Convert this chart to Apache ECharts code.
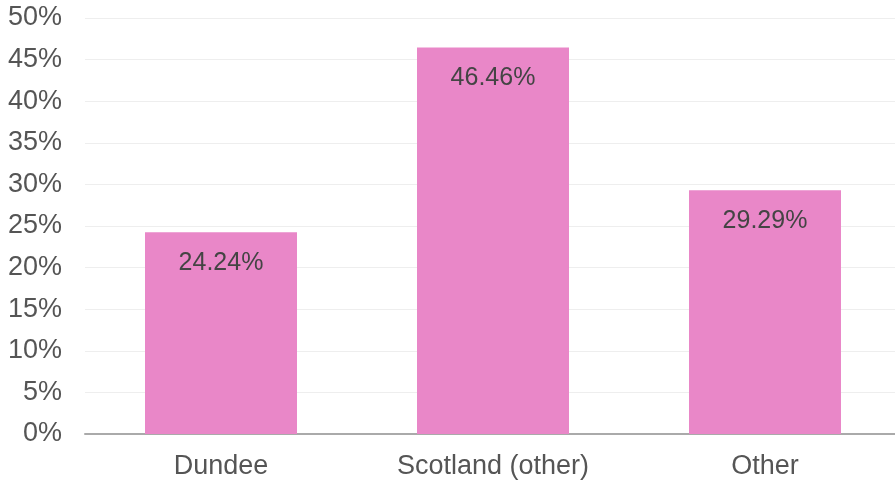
<!DOCTYPE html>
<html><head><meta charset="utf-8">
<script src="https://cdn.jsdelivr.net/npm/echarts@6/dist/echarts.min.js"></script>
<style>html,body{margin:0;padding:0;background:#fff;overflow:hidden;width:895px;height:484px}#c{width:901px;height:484px}</style>
</head><body><div id="c"></div>
<script>
const categories = ["Dundee", "Scotland (other)", "Other"];
const values = [24.24, 46.46, 29.29];
const FONT = '"Liberation Sans", Arial, Helvetica, sans-serif';
const chart = echarts.init(document.getElementById('c'));
chart.setOption({
  animation: false,
  grid: {left: 85, top: 18, right: 0, bottom: 50, containLabel: false},
  xAxis: {
    type: 'category', data: categories,
    axisLine: {lineStyle: {color: '#aaaaaa', width: 2}},
    axisTick: {show: false},
    axisLabel: {color: '#555', fontSize: 27, fontFamily: FONT, margin: 19}
  },
  yAxis: {
    type: 'value', min: 0, max: 50, interval: 5,
    axisLabel: {formatter: '{value}%', color: '#555', fontSize: 27, fontFamily: FONT, margin: 23},
    splitLine: {lineStyle: {color: '#eeeeee', width: 1}},
    axisLine: {show: false}, axisTick: {show: false}
  },
  series: [{
    type: 'bar', data: values, barWidth: 152,
    itemStyle: {color: '#e987c8'},
    label: {show: true, position: 'insideTop', distance: 18, formatter: p => p.value.toFixed(2) + '%',
      color: '#444', fontSize: 25, fontFamily: FONT}
  }]
});
</script></body></html>
